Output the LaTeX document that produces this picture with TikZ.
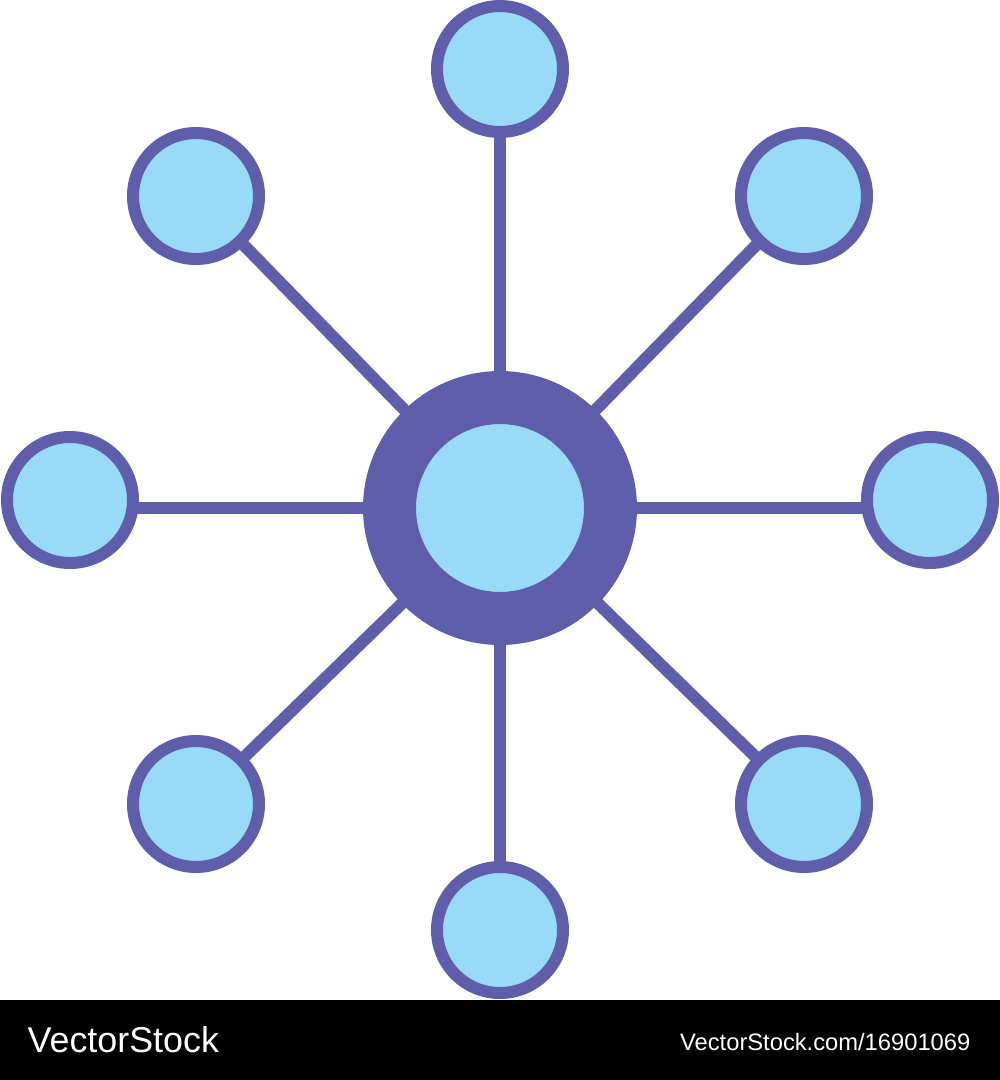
\documentclass[tikz,border=0pt]{standalone}
\usepackage{fontspec}
\setmainfont{Liberation Sans}
\usetikzlibrary{backgrounds}

\definecolor{hubpurple}{HTML}{5E5EAA}
\definecolor{nodeblue}{HTML}{98DAF7}

\begin{document}
\begin{tikzpicture}[x=0.1mm,y=-0.1mm,
    leaf/.style={circle, draw=hubpurple, fill=nodeblue, line width=1.2mm, minimum size=12.6mm, inner sep=0pt},
    hub/.style={circle, draw=hubpurple, fill=nodeblue, line width=5.3mm, minimum size=22.1mm, inner sep=0pt},
    spoke/.style={draw=hubpurple, line width=1.2mm}]
    \useasboundingbox (0,0) rectangle (1000,1080);

    \node[hub] (centre) at (500,508) {};

    \node[leaf] (top) at (500,69) {};
    \node[leaf] (bottom) at (500,930) {};
    \node[leaf] (left) at (70,500) {};
    \node[leaf] (right) at (930,500) {};
    \node[leaf] (topleft) at (196,196) {};
    \node[leaf] (topright) at (804,196) {};
    \node[leaf] (bottomleft) at (196,804) {};
    \node[leaf] (bottomright) at (804,804) {};

    \begin{scope}[on background layer]
    \fill[white](0,0) rectangle (1000,1000);
    \draw[spoke](centre.center)--(top.center);
    \draw[spoke](centre.center)--(bottom.center);
    \draw[spoke](centre.center)--(left.center |- centre.center);
    \draw[spoke](centre.center)--(right.center |- centre.center);
    \draw[spoke](centre.center)--(topleft.center);
    \draw[spoke](centre.center)--(topright.center);
    \draw[spoke](centre.center)--(bottomleft.center);
    \draw[spoke](centre.center)--(bottomright.center);
    \end{scope}

    % watermark bar
    \fill[black](0,1000) rectangle (1000,1080);
    \node[white, anchor=base west, inner sep=0pt, font=\fontsize{10.2pt}{12pt}\selectfont] (brand) at (27,1052) {VectorStock};
    \node[white, anchor=base east, inner sep=0pt, font=\fontsize{6.75pt}{8pt}\selectfont] (link) at (971,1050) {VectorStock.com/16901069};
\end{tikzpicture}
\end{document}
